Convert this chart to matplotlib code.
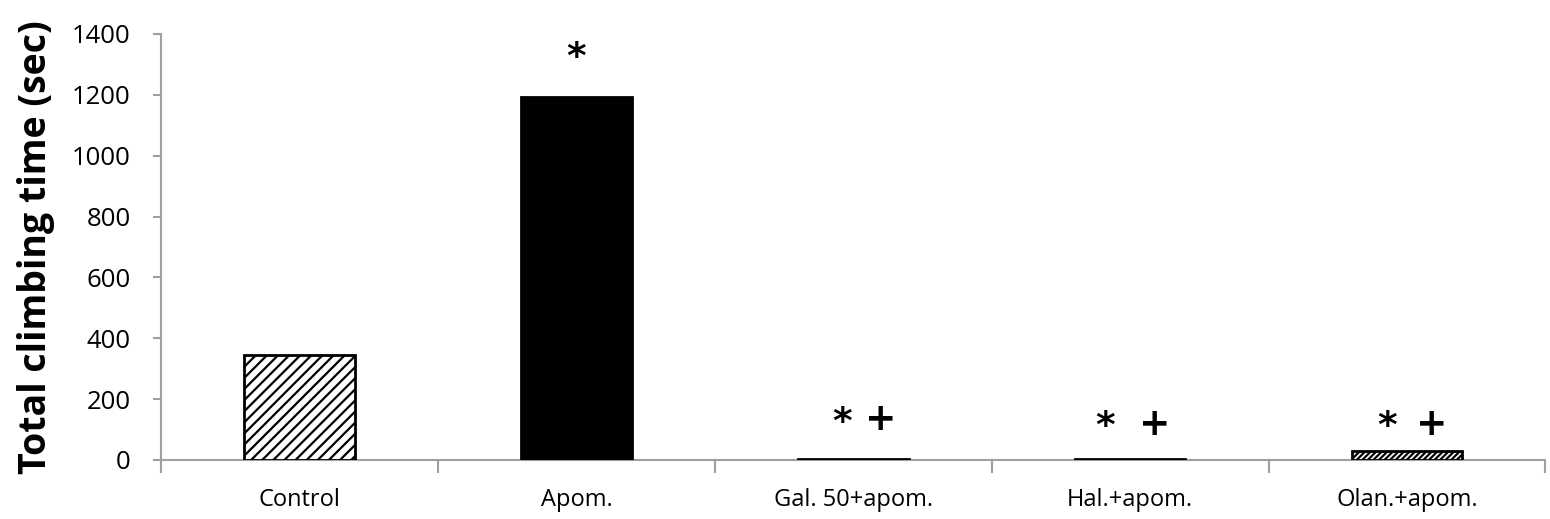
import numpy as np
import matplotlib.pyplot as plt

# dane
groups = ['Control', 'Apom.', 'Gal. 50+apom.', 'Hal.+apom.', 'Olan.+apom.']
climb_time = [345, 1193, 3, 3, 30]
hatches = ['///', None, '////', '////', '//////']
faces = ['white', 'black', 'white', 'white', 'white']
# oznaczenia istotnosci: (tekst, przesuniecie x, wysokosc)
marks = [[], [('*', 0.0, 1320)],
         [('*', -0.04, 120), ('+', 0.1, 130)],
         [('*', -0.09, 110), ('+', 0.09, 115)],
         [('*', -0.07, 110), ('+', 0.09, 115)]]

plt.rcParams['font.family'] = ['Open Sans', 'DejaVu Sans']
plt.rcParams['hatch.linewidth'] = 1.6

fig = plt.figure(figsize=(15.5, 5.19), dpi=100)
ax = fig.add_axes([0.104, 0.1137, 0.893, 0.8208])

x = np.arange(len(groups))
for i in range(len(groups)):
    ax.bar(x[i], climb_time[i], width=0.4, color=faces[i], edgecolor='black',
           linewidth=2, hatch=hatches[i], zorder=3)
    for txt, dx, yy in marks[i]:
        ax.text(x[i] + dx, yy, txt, ha='center', va='center', fontsize=27,
                fontweight='bold', family='DejaVu Sans')

ax.set_xlim(-0.5, len(groups) - 0.5)
ax.set_ylim(0, 1400)
ax.set_yticks(np.arange(0, 1401, 200))
ax.set_xticks(x)
ax.set_xticklabels(groups, fontsize=17)
ax.tick_params(axis='x', length=0, pad=20)
ax.tick_params(axis='y', labelsize=18.5, length=6, pad=16, color='#a0a0a0', width=1.5)
# ticki na granicach kategorii
ax.set_xticks(np.arange(-0.5, len(groups)), minor=True)
ax.tick_params(axis='x', which='minor', length=9, color='#a0a0a0', width=1.5)

for s in ['top', 'right']:
    ax.spines[s].set_visible(False)
for s in ['left', 'bottom']:
    ax.spines[s].set_color('#a0a0a0')
    ax.spines[s].set_linewidth(1.5)

ax.set_ylabel('Total climbing time (sec)', fontsize=27, fontweight='bold', labelpad=12)

fig.savefig('out.png', dpi=100)
